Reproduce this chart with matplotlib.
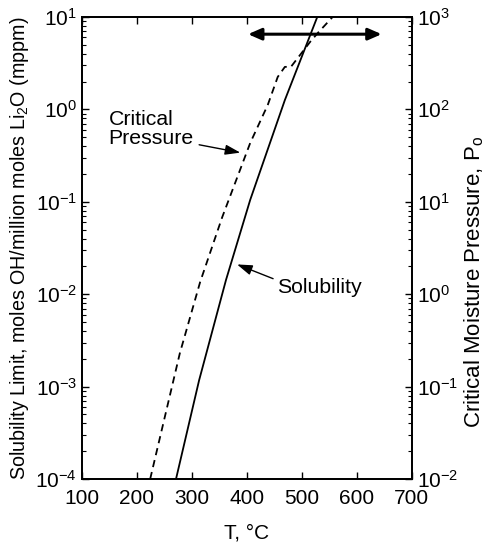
import numpy as np
import matplotlib.pyplot as plt
from matplotlib.ticker import LogLocator, NullFormatter, FixedLocator

plt.rcParams['font.family'] = ['Liberation Sans', 'DejaVu Sans']
plt.rcParams['mathtext.fontset'] = 'custom'
plt.rcParams['mathtext.rm'] = 'Liberation Sans'
plt.rcParams['mathtext.it'] = 'Liberation Sans'

# solubility limit (mppm) vs temperature
sol_T = [271, 313, 362, 406, 469, 528]
sol_val = [1.0e-4, 1.17e-3, 1.43e-2, 0.105, 1.26, 10.0]

# critical moisture pressure (right axis) vs temperature
pc_T = [224, 278, 315, 355, 406, 438, 456, 469, 480, 515, 529, 556]
pc_val = [1.0e-2, 0.23, 1.36, 6.8, 43.3, 112, 224, 288, 288, 537, 671, 1000]

x_ticks = [100, 200, 300, 400, 500, 600, 700]
left_ticks = [1e-4, 1e-3, 1e-2, 1e-1, 1e0, 1e1]
left_labels = ['$\\mathregular{10^{-4}}$', '$\\mathregular{10^{-3}}$', '$\\mathregular{10^{-2}}$',
               '$\\mathregular{10^{-1}}$', '$\\mathregular{10^{0}}$', '$\\mathregular{10^{1}}$']
right_ticks = [1e-2, 1e-1, 1e0, 1e1, 1e2, 1e3]
right_labels = ['$\\mathregular{10^{-2}}$', '$\\mathregular{10^{-1}}$', '$\\mathregular{10^{0}}$',
                '$\\mathregular{10^{1}}$', '$\\mathregular{10^{2}}$', '$\\mathregular{10^{3}}$']

fig = plt.figure(figsize=(4.88, 5.45), dpi=100)
ax = fig.add_axes([0.168, 0.121, 0.676, 0.848])
ax2 = ax.twinx()

ax.plot(sol_T, sol_val, '-', color='k', lw=1.3)
ax2.plot(pc_T, pc_val, '--', color='k', lw=1.3, dashes=(4, 2.8))

ax.set_xlim(100, 700)
ax.set_yscale('log')
ax.set_ylim(1e-4, 1e1)
ax2.set_yscale('log')
ax2.set_ylim(1e-2, 1e3)

ax.xaxis.set_major_locator(FixedLocator(x_ticks))
ax.set_yticks(left_ticks)
ax.set_yticklabels(left_labels)
ax2.set_yticks(right_ticks)
ax2.set_yticklabels(right_labels)
for a in (ax, ax2):
    a.yaxis.set_minor_locator(LogLocator(base=10, subs=np.arange(2, 10)))
    a.yaxis.set_minor_formatter(NullFormatter())
ax.tick_params(axis='x', which='both', direction='in', top=True, length=5, width=1,
               labelsize=15, pad=7)
ax.tick_params(axis='y', which='major', direction='in', length=5, width=1, labelsize=15, right=False)
ax.tick_params(axis='y', which='minor', direction='in', length=3, width=0.8, right=False)
ax2.tick_params(axis='y', which='major', direction='in', length=5, width=1, labelsize=15)
ax2.tick_params(axis='y', which='minor', direction='in', length=3, width=0.8)
ax.minorticks_on()
ax.xaxis.set_minor_locator(FixedLocator([]))

for a in (ax, ax2):
    for s in a.spines.values():
        s.set_linewidth(1.3)

ax.set_xlabel('T, \u00b0C', fontsize=15, labelpad=11)
ax.set_ylabel('Solubility Limit, moles OH/million moles Li$_2$O (mppm)', fontsize=14.2, labelpad=3)
fig.text(0.971, 0.483, 'Critical Moisture Pressure, P$_o$', fontsize=16,
         rotation=90, ha='center', va='center')

# operating temperature range
ax.annotate('', xy=(402, 6.5), xytext=(645, 6.5),
            arrowprops=dict(arrowstyle='<|-|>,head_length=0.8,head_width=0.35', color='k', lw=2.2,
                            shrinkA=0, shrinkB=0))

ax.annotate('Critical\nPressure', xy=(388, 0.34), xytext=(148, 0.62),
            fontsize=15.3, ha='left', va='center', linespacing=1.0,
            arrowprops=dict(arrowstyle='-|>,head_length=0.6,head_width=0.2', color='k', lw=1,
                            shrinkA=2, shrinkB=0, relpos=(1.0, 0.1)))
ax.annotate('Solubility', xy=(382, 0.021), xytext=(455, 0.0117),
            fontsize=15.3, ha='left', va='center',
            arrowprops=dict(arrowstyle='-|>,head_length=0.6,head_width=0.2', color='k', lw=1,
                            shrinkA=1, shrinkB=0, relpos=(0.0, 0.9)))

fig.savefig('out.png', dpi=100)
